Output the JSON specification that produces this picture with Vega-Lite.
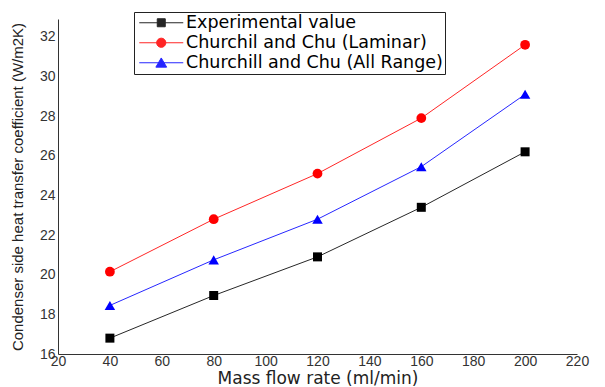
{
  "$schema": "https://vega.github.io/schema/vega-lite/v6.json",
  "width": 519,
  "height": 335,
  "autosize": "none",
  "padding": {"left": 58, "top": 19, "right": 28, "bottom": 33},
  "background": "white",
  "config": {
    "view": {"stroke": null},
    "axis": {
      "grid": false,
      "ticks": false,
      "domainColor": "#333333",
      "domainWidth": 1,
      "labelFont": "Liberation Sans",
      "labelFontSize": 14,
      "labelColor": "#333333",
      "titleColor": "#222222",
      "titleFontWeight": "normal"
    },
    "legend": {
      "orient": "none",
      "legendX": 76,
      "legendY": -7,
      "direction": "vertical",
      "padding": 2,
      "strokeColor": "#222222",
      "fillColor": "white",
      "cornerRadius": 0,
      "symbolSize": 64,
      "symbolStrokeWidth": 1,
      "symbolOffset": 16.5,
      "labelOffset": 16,
      "labelFont": "DejaVu Sans",
      "labelFontSize": 17.5,
      "labelColor": "#000000",
      "labelLimit": 400,
      "rowPadding": 1
    }
  },
  "data": {
    "values": [
      {"flow": 40, "htc": 16.8, "series": "Experimental value"},
      {"flow": 80, "htc": 18.95, "series": "Experimental value"},
      {"flow": 120, "htc": 20.9, "series": "Experimental value"},
      {"flow": 160, "htc": 23.4, "series": "Experimental value"},
      {"flow": 200, "htc": 26.2, "series": "Experimental value"},
      {"flow": 40, "htc": 20.15, "series": "Churchil and Chu (Laminar)"},
      {"flow": 80, "htc": 22.8, "series": "Churchil and Chu (Laminar)"},
      {"flow": 120, "htc": 25.1, "series": "Churchil and Chu (Laminar)"},
      {"flow": 160, "htc": 27.9, "series": "Churchil and Chu (Laminar)"},
      {"flow": 200, "htc": 31.6, "series": "Churchil and Chu (Laminar)"},
      {"flow": 40, "htc": 18.45, "series": "Churchill and Chu (All Range)"},
      {"flow": 80, "htc": 20.75, "series": "Churchill and Chu (All Range)"},
      {"flow": 120, "htc": 22.8, "series": "Churchill and Chu (All Range)"},
      {"flow": 160, "htc": 25.45, "series": "Churchill and Chu (All Range)"},
      {"flow": 200, "htc": 29.1, "series": "Churchill and Chu (All Range)"}
    ]
  },
  "encoding": {
    "x": {
      "field": "flow",
      "type": "quantitative",
      "scale": {"domain": [20, 220], "nice": false, "zero": false},
      "axis": {
        "values": [20, 40, 60, 80, 100, 120, 140, 160, 180, 200, 220],
        "labelPadding": 0,
        "labelFlush": false,
        "labelOverlap": false,
        "title": "Mass flow rate (ml/min)",
        "titleFont": "DejaVu Sans",
        "titleFontSize": 17,
        "titlePadding": 2
      }
    },
    "y": {
      "field": "htc",
      "type": "quantitative",
      "scale": {"domain": [16, 32.9], "nice": false, "zero": false},
      "axis": {
        "values": [16, 18, 20, 22, 24, 26, 28, 30, 32],
        "labelPadding": 3,
        "labelFlush": false,
        "labelOverlap": false,
        "title": "Condenser side heat transfer coefficient (W/m2K)",
        "titleFont": "Liberation Sans",
        "titleFontSize": 15,
        "titlePadding": 14
      }
    },
    "color": {
      "field": "series",
      "type": "nominal",
      "scale": {
        "domain": ["Experimental value", "Churchil and Chu (Laminar)", "Churchill and Chu (All Range)"],
        "range": ["#000000", "#ff0000", "#0000ff"]
      },
      "legend": {
        "title": null,
        "symbolType": {"expr": "datum.value === 'Experimental value' ? 'M-5.5,0H5.5M-1,-1H1V1H-1Z' : datum.value === 'Churchil and Chu (Laminar)' ? 'M-5.5,0H5.5M-1.15,0A1.15,1.15,0,1,1,1.15,0A1.15,1.15,0,1,1,-1.15,0Z' : 'M-5.5,0H5.5M0,-1.2L1.35,1.1L-1.35,1.1Z'"},
        "encode": {
          "symbols": {
            "strokeWidth": {"value": 1},
            "opacity": {"value": 1}
          }
        }
      }
    }
  },
  "layer": [
    {
      "mark": {"type": "line", "strokeWidth": 1, "opacity": 0.85}
    },
    {
      "mark": {"type": "point", "filled": true, "opacity": 1},
      "encoding": {
        "shape": {
          "field": "series",
          "type": "nominal",
          "scale": {
            "domain": ["Churchil and Chu (Laminar)", "Experimental value", "Churchill and Chu (All Range)"],
            "range": ["circle", "square", "triangle-up"]
          },
          "legend": null
        },
        "size": {
          "field": "series",
          "type": "nominal",
          "scale": {
            "domain": ["Churchill and Chu (All Range)", "Churchil and Chu (Laminar)", "Experimental value"],
            "range": [110, 81, 64]
          },
          "legend": null
        }
      }
    }
  ]
}
